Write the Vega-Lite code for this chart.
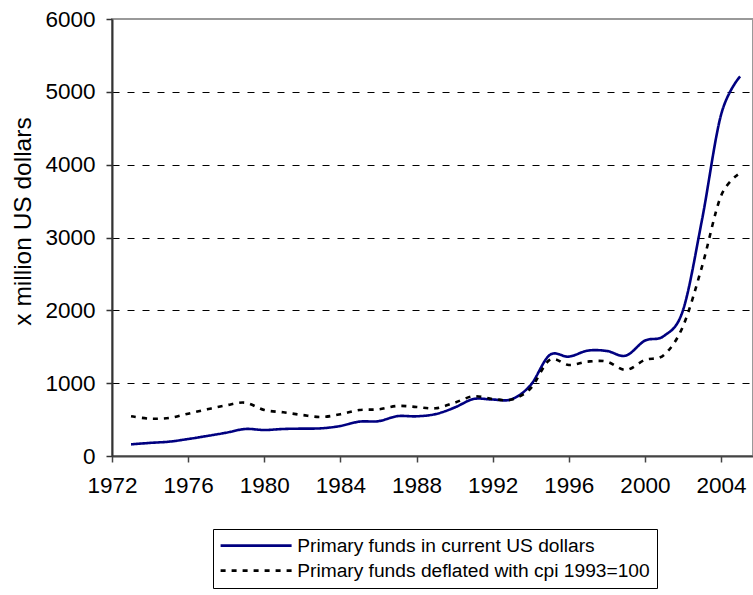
{
  "$schema": "https://vega.github.io/schema/vega-lite/v6.json",
  "width": 641,
  "height": 437,
  "autosize": {"type": "none"},
  "padding": {"left": 112, "top": 19, "right": 0, "bottom": 139},
  "background": "white",
  "config": {
    "font": "Liberation Sans",
    "view": {"stroke": "#999999", "strokeWidth": 2},
    "axis": {"labelColor": "black", "titleColor": "black", "labelFont": "Liberation Sans", "titleFont": "Liberation Sans"},
    "legend": {
      "orient": "none",
      "legendX": 101,
      "legendY": 510,
      "direction": "vertical",
      "strokeColor": "#000000",
      "fillColor": "white",
      "padding": 7,
      "labelFontSize": 19.2,
      "labelFont": "Liberation Sans",
      "labelColor": "black",
      "labelLimit": 0,
      "labelOffset": 58,
      "rowPadding": 5,
      "symbolType": "M-1.8,0H12.4",
      "symbolSize": 100,
      "symbolStrokeWidth": 2.7,
      "symbolOffset": 0
    }
  },
  "data": {
    "values": [
      {"year": 1973, "series": "Primary funds in current US dollars", "value": 160},
      {"year": 1974, "series": "Primary funds in current US dollars", "value": 180},
      {"year": 1975, "series": "Primary funds in current US dollars", "value": 197},
      {"year": 1976, "series": "Primary funds in current US dollars", "value": 233},
      {"year": 1977, "series": "Primary funds in current US dollars", "value": 275},
      {"year": 1978, "series": "Primary funds in current US dollars", "value": 320},
      {"year": 1979, "series": "Primary funds in current US dollars", "value": 371},
      {"year": 1980, "series": "Primary funds in current US dollars", "value": 357},
      {"year": 1981, "series": "Primary funds in current US dollars", "value": 371},
      {"year": 1982, "series": "Primary funds in current US dollars", "value": 376},
      {"year": 1983, "series": "Primary funds in current US dollars", "value": 380},
      {"year": 1984, "series": "Primary funds in current US dollars", "value": 412},
      {"year": 1985, "series": "Primary funds in current US dollars", "value": 472},
      {"year": 1986, "series": "Primary funds in current US dollars", "value": 478},
      {"year": 1987, "series": "Primary funds in current US dollars", "value": 547},
      {"year": 1988, "series": "Primary funds in current US dollars", "value": 545},
      {"year": 1989, "series": "Primary funds in current US dollars", "value": 575},
      {"year": 1990, "series": "Primary funds in current US dollars", "value": 665},
      {"year": 1991, "series": "Primary funds in current US dollars", "value": 783},
      {"year": 1992, "series": "Primary funds in current US dollars", "value": 775},
      {"year": 1993, "series": "Primary funds in current US dollars", "value": 780},
      {"year": 1994, "series": "Primary funds in current US dollars", "value": 975},
      {"year": 1995, "series": "Primary funds in current US dollars", "value": 1387},
      {"year": 1996, "series": "Primary funds in current US dollars", "value": 1364},
      {"year": 1997, "series": "Primary funds in current US dollars", "value": 1447},
      {"year": 1998, "series": "Primary funds in current US dollars", "value": 1442},
      {"year": 1999, "series": "Primary funds in current US dollars", "value": 1378},
      {"year": 2000, "series": "Primary funds in current US dollars", "value": 1584},
      {"year": 2001, "series": "Primary funds in current US dollars", "value": 1648},
      {"year": 2002, "series": "Primary funds in current US dollars", "value": 2000},
      {"year": 2003, "series": "Primary funds in current US dollars", "value": 3242},
      {"year": 2004, "series": "Primary funds in current US dollars", "value": 4684},
      {"year": 2005, "series": "Primary funds in current US dollars", "value": 5211},
      {"year": 1973, "series": "Primary funds deflated with cpi 1993=100", "value": 545},
      {"year": 1974, "series": "Primary funds deflated with cpi 1993=100", "value": 513},
      {"year": 1975, "series": "Primary funds deflated with cpi 1993=100", "value": 522},
      {"year": 1976, "series": "Primary funds deflated with cpi 1993=100", "value": 581},
      {"year": 1977, "series": "Primary funds deflated with cpi 1993=100", "value": 641},
      {"year": 1978, "series": "Primary funds deflated with cpi 1993=100", "value": 696},
      {"year": 1979, "series": "Primary funds deflated with cpi 1993=100", "value": 732},
      {"year": 1980, "series": "Primary funds deflated with cpi 1993=100", "value": 632},
      {"year": 1981, "series": "Primary funds deflated with cpi 1993=100", "value": 600},
      {"year": 1982, "series": "Primary funds deflated with cpi 1993=100", "value": 563},
      {"year": 1983, "series": "Primary funds deflated with cpi 1993=100", "value": 536},
      {"year": 1984, "series": "Primary funds deflated with cpi 1993=100", "value": 573},
      {"year": 1985, "series": "Primary funds deflated with cpi 1993=100", "value": 632},
      {"year": 1986, "series": "Primary funds deflated with cpi 1993=100", "value": 641},
      {"year": 1987, "series": "Primary funds deflated with cpi 1993=100", "value": 687},
      {"year": 1988, "series": "Primary funds deflated with cpi 1993=100", "value": 673},
      {"year": 1989, "series": "Primary funds deflated with cpi 1993=100", "value": 655},
      {"year": 1990, "series": "Primary funds deflated with cpi 1993=100", "value": 732},
      {"year": 1991, "series": "Primary funds deflated with cpi 1993=100", "value": 820},
      {"year": 1992, "series": "Primary funds deflated with cpi 1993=100", "value": 783},
      {"year": 1993, "series": "Primary funds deflated with cpi 1993=100", "value": 775},
      {"year": 1994, "series": "Primary funds deflated with cpi 1993=100", "value": 930},
      {"year": 1995, "series": "Primary funds deflated with cpi 1993=100", "value": 1319},
      {"year": 1996, "series": "Primary funds deflated with cpi 1993=100", "value": 1250},
      {"year": 1997, "series": "Primary funds deflated with cpi 1993=100", "value": 1296},
      {"year": 1998, "series": "Primary funds deflated with cpi 1993=100", "value": 1296},
      {"year": 1999, "series": "Primary funds deflated with cpi 1993=100", "value": 1181},
      {"year": 2000, "series": "Primary funds deflated with cpi 1993=100", "value": 1319},
      {"year": 2001, "series": "Primary funds deflated with cpi 1993=100", "value": 1387},
      {"year": 2002, "series": "Primary funds deflated with cpi 1993=100", "value": 1780},
      {"year": 2003, "series": "Primary funds deflated with cpi 1993=100", "value": 2600},
      {"year": 2004, "series": "Primary funds deflated with cpi 1993=100", "value": 3570},
      {"year": 2005, "series": "Primary funds deflated with cpi 1993=100", "value": 3883}
    ]
  },
  "mark": {"type": "line", "interpolate": "cardinal", "strokeWidth": 2.6},
  "encoding": {
    "x": {
      "field": "year",
      "type": "quantitative",
      "scale": {"domain": [1972, 2005.68], "nice": false, "zero": false},
      "axis": {
        "title": null,
        "values": [1972, 1976, 1980, 1984, 1988, 1992, 1996, 2000, 2004],
        "format": "d",
        "grid": false,
        "labelFontSize": 22.5,
        "labelPadding": 12,
        "tickSize": 6,
        "tickColor": "#444444",
        "tickWidth": 1.5,
        "domainColor": "#444444",
        "domainWidth": 2,
        "labelFlush": false,
        "labelOverlap": false
      }
    },
    "y": {
      "field": "value",
      "type": "quantitative",
      "scale": {"domain": [0, 6000], "nice": false},
      "axis": {
        "title": "x million US dollars",
        "titleFontSize": 24.5,
        "titleFontWeight": "normal",
        "titleX": -89,
        "titleY": 202,
        "titleAngle": -90,
        "titleAlign": "center",
        "titleBaseline": "middle",
        "values": [0, 1000, 2000, 3000, 4000, 5000, 6000],
        "format": "d",
        "labelFontSize": 22.5,
        "labelPadding": 11,
        "tickSize": 6,
        "tickColor": "#333333",
        "tickWidth": 1.5,
        "domainColor": "#333333",
        "domainWidth": 2,
        "grid": true,
        "gridColor": "black",
        "gridWidth": 1,
        "gridDash": [7, 8],
        "gridOpacity": {"condition": {"test": "datum.value === 0 || datum.value === 6000", "value": 0}, "value": 1},
        "labelFlush": false,
        "labelOverlap": false
      }
    },
    "color": {
      "field": "series",
      "type": "nominal",
      "sort": ["Primary funds in current US dollars", "Primary funds deflated with cpi 1993=100"],
      "scale": {"domain": ["Primary funds in current US dollars", "Primary funds deflated with cpi 1993=100"], "range": ["#000080", "#000000"]},
      "legend": {"title": null}
    },
    "strokeDash": {
      "field": "series",
      "type": "nominal",
      "sort": ["Primary funds in current US dollars", "Primary funds deflated with cpi 1993=100"],
      "scale": {"domain": ["Primary funds in current US dollars", "Primary funds deflated with cpi 1993=100"], "range": [[1, 0], [5, 6]]},
      "legend": {"title": null}
    }
  }
}
